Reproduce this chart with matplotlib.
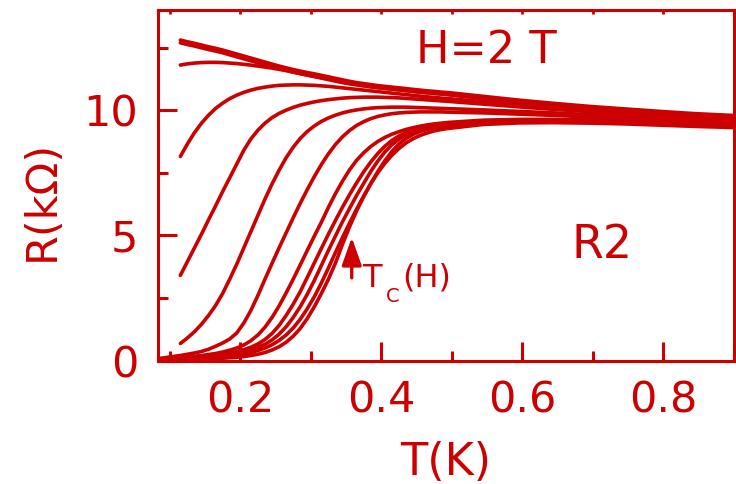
import numpy as np
import matplotlib.pyplot as plt

RED = '#cc0000'
nan = np.nan

# temperature grid (K) shared by all sweeps
temperature = [0.085, 0.095, 0.105, 0.115, 0.125, 0.135, 0.145, 0.155, 0.165, 0.175,
               0.185, 0.195, 0.205, 0.215, 0.225, 0.235, 0.245, 0.255, 0.265, 0.275,
               0.285, 0.295, 0.305, 0.315, 0.325, 0.335, 0.345, 0.355, 0.365, 0.375,
               0.385, 0.395, 0.405, 0.415, 0.425, 0.435, 0.445, 0.455, 0.465, 0.475,
               0.485, 0.495, 0.545, 0.595, 0.645, 0.695, 0.745, 0.795, 0.845, 0.905]

# resistance (kOhm), highest field first
r_h1 = [nan, nan, nan, 12.80, 12.73, 12.67, 12.60, 12.53, 12.47, 12.40,
        12.32, 12.24, 12.16, 12.08, 12.00, 11.92, 11.84, 11.76, 11.69, 11.62,
        11.56, 11.50, 11.45, 11.39, 11.33, 11.27, 11.21, 11.15, 11.10, 11.06,
        11.02, 10.98, 10.95, 10.92, 10.89, 10.86, 10.83, 10.80, 10.77, 10.75,
        10.72, 10.70, 10.55, 10.40, 10.27, 10.15, 10.05, 9.95, 9.86, 9.78]
r_h2 = [nan, nan, nan, 12.69, 12.62, 12.56, 12.49, 12.42, 12.36, 12.29,
        12.21, 12.13, 12.05, 11.97, 11.89, 11.81, 11.74, 11.66, 11.59, 11.52,
        11.46, 11.40, 11.35, 11.30, 11.24, 11.18, 11.12, 11.07, 11.02, 10.98,
        10.94, 10.90, 10.87, 10.84, 10.81, 10.78, 10.75, 10.72, 10.70, 10.67,
        10.65, 10.62, 10.48, 10.34, 10.21, 10.10, 10.00, 9.90, 9.81, 9.73]
r_h3 = [nan, nan, nan, 11.80, 11.85, 11.88, 11.90, 11.91, 11.91, 11.90,
        11.88, 11.86, 11.83, 11.80, 11.76, 11.72, 11.68, 11.63, 11.58, 11.52,
        11.46, 11.40, 11.34, 11.28, 11.22, 11.16, 11.10, 11.05, 11.01, 10.97,
        10.93, 10.90, 10.87, 10.84, 10.81, 10.78, 10.75, 10.72, 10.69, 10.67,
        10.64, 10.62, 10.46, 10.31, 10.18, 10.07, 9.97, 9.87, 9.78, 9.70]
r_h4 = [nan, nan, nan, 8.15, 8.65, 9.10, 9.48, 9.80, 10.07, 10.28,
        10.46, 10.60, 10.71, 10.80, 10.87, 10.92, 10.96, 10.99, 11.00, 11.01,
        11.01, 11.00, 10.99, 10.97, 10.95, 10.92, 10.89, 10.86, 10.83, 10.80,
        10.77, 10.74, 10.71, 10.68, 10.65, 10.62, 10.59, 10.56, 10.53, 10.51,
        10.48, 10.46, 10.34, 10.22, 10.11, 10.01, 9.92, 9.83, 9.75, 9.67]
r_h5 = [nan, nan, nan, 3.40, 3.95, 4.50, 5.05, 5.62, 6.18, 6.75,
        7.30, 7.85, 8.40, 8.85, 9.20, 9.48, 9.70, 9.87, 10.00, 10.11,
        10.20, 10.27, 10.33, 10.38, 10.42, 10.45, 10.48, 10.50, 10.51, 10.52,
        10.52, 10.52, 10.51, 10.50, 10.49, 10.47, 10.45, 10.43, 10.41, 10.39,
        10.37, 10.35, 10.24, 10.13, 10.03, 9.94, 9.86, 9.78, 9.70, 9.62]
r_h6 = [nan, nan, nan, 0.68, 0.90, 1.15, 1.45, 1.80, 2.20, 2.68,
        3.25, 3.85, 4.50, 5.15, 5.80, 6.45, 7.05, 7.60, 8.10, 8.52,
        8.87, 9.15, 9.37, 9.55, 9.69, 9.80, 9.89, 9.96, 10.01, 10.05,
        10.08, 10.10, 10.11, 10.12, 10.12, 10.12, 10.11, 10.10, 10.09, 10.08,
        10.07, 10.06, 10.01, 9.95, 9.89, 9.82, 9.75, 9.68, 9.61, 9.55]
r_h7 = [0.08, 0.12, 0.16, 0.20, 0.25, 0.30, 0.36, 0.45, 0.57, 0.70,
        0.86, 1.10, 1.50, 2.00, 2.60, 3.25, 3.88, 4.50, 5.10, 5.70,
        6.28, 6.83, 7.35, 7.83, 8.26, 8.63, 8.94, 9.19, 9.39, 9.54,
        9.66, 9.75, 9.81, 9.86, 9.89, 9.91, 9.92, 9.93, 9.93, 9.93,
        9.93, 9.92, 9.89, 9.84, 9.79, 9.73, 9.67, 9.61, 9.55, 9.48]
r_h8 = [0.06, 0.08, 0.10, 0.12, 0.14, 0.17, 0.20, 0.24, 0.28, 0.34,
        0.41, 0.50, 0.62, 0.79, 1.02, 1.33, 1.72, 2.18, 2.70, 3.25,
        3.82, 4.40, 4.97, 5.53, 6.12, 6.67, 7.17, 7.62, 8.00, 8.30,
        8.55, 8.75, 8.91, 9.04, 9.14, 9.23, 9.30, 9.36, 9.41, 9.45,
        9.48, 9.51, 9.60, 9.63, 9.63, 9.61, 9.57, 9.52, 9.47, 9.43]
r_h9 = [0.05, 0.06, 0.08, 0.09, 0.11, 0.13, 0.15, 0.18, 0.21, 0.25,
        0.30, 0.36, 0.43, 0.53, 0.66, 0.84, 1.08, 1.40, 1.80, 2.25,
        2.75, 3.32, 3.90, 4.48, 5.05, 5.60, 6.13, 6.63, 7.10, 7.54,
        7.93, 8.27, 8.56, 8.79, 8.97, 9.10, 9.20, 9.28, 9.34, 9.39,
        9.43, 9.46, 9.56, 9.60, 9.60, 9.58, 9.54, 9.49, 9.44, 9.40]
r_h10 = [0.04, 0.05, 0.06, 0.07, 0.08, 0.10, 0.12, 0.14, 0.16, 0.19,
         0.23, 0.28, 0.34, 0.42, 0.52, 0.65, 0.82, 1.05, 1.35, 1.72,
         2.15, 2.65, 3.20, 3.80, 4.40, 4.98, 5.55, 6.08, 6.60, 7.08,
         7.55, 7.97, 8.33, 8.62, 8.84, 9.00, 9.12, 9.21, 9.28, 9.33,
         9.37, 9.40, 9.51, 9.56, 9.57, 9.55, 9.51, 9.47, 9.42, 9.37]
r_h11 = [0.03, 0.04, 0.05, 0.05, 0.06, 0.07, 0.09, 0.10, 0.12, 0.14,
         0.17, 0.21, 0.26, 0.32, 0.40, 0.50, 0.63, 0.80, 1.02, 1.30,
         1.65, 2.07, 2.55, 3.10, 3.70, 4.32, 4.92, 5.50, 6.05, 6.57,
         7.07, 7.55, 7.98, 8.35, 8.65, 8.87, 9.03, 9.15, 9.23, 9.29,
         9.34, 9.37, 9.48, 9.53, 9.54, 9.52, 9.48, 9.44, 9.39, 9.34]
r_h12 = [0.02, 0.02, 0.03, 0.03, 0.04, 0.04, 0.05, 0.06, 0.07, 0.09,
         0.11, 0.13, 0.16, 0.20, 0.25, 0.32, 0.42, 0.55, 0.73, 0.97,
         1.28, 1.68, 2.15, 2.68, 3.25, 3.90, 4.65, 5.35, 5.98, 6.55,
         7.06, 7.50, 7.88, 8.20, 8.47, 8.69, 8.86, 8.99, 9.09, 9.17,
         9.23, 9.27, 9.43, 9.49, 9.50, 9.48, 9.45, 9.40, 9.35, 9.30]

sweeps = [r_h1, r_h2, r_h3, r_h4, r_h5, r_h6, r_h7, r_h8, r_h9, r_h10, r_h11, r_h12]

x_major = [0.2, 0.4, 0.6, 0.8]
x_minor = [0.1, 0.3, 0.5, 0.7, 0.9]
y_major = [0, 5, 10]
y_minor = [2.5, 7.5, 12.5]

fig = plt.figure(figsize=(7.36, 4.84), dpi=100)
ax = fig.add_axes([157.5 / 736, 1 - 360.5 / 484, 576.5 / 736, 350.5 / 484])

for r in sweeps:
    ax.plot(temperature, r, color=RED, lw=2.6, solid_capstyle='round')

ax.set_xlim(0.0826, 0.898)
ax.set_ylim(0, 14)

ax.set_xticks(x_major)
ax.set_xticks(x_minor, minor=True)
ax.set_yticks(y_major)
ax.set_yticks(y_minor, minor=True)
ax.set_xticklabels(['0.2', '0.4', '0.6', '0.8'])
ax.tick_params(which='both', direction='in', color=RED, labelcolor=RED, width=2.2)
ax.tick_params(which='major', length=14, labelsize=31)
ax.tick_params(which='minor', length=7.5)
ax.tick_params(axis='x', which='major', pad=14)
ax.tick_params(axis='y', which='major', pad=14)

# short marks along the top edge
top = ax.secondary_xaxis('top')
top.set_xticks(x_major + x_minor)
top.tick_params(direction='in', length=3, width=2, color=RED, labeltop=False)
top.spines['top'].set_color(RED)
top.spines['top'].set_linewidth(2.2)

for s in ax.spines.values():
    s.set_color(RED)
    s.set_linewidth(2.2)

ax.set_xlabel('T(K)', fontsize=32, color=RED)
ax.xaxis.set_label_coords(0.5, -0.23)
ax.set_ylabel('R(k\u03a9)', fontsize=31, color=RED)
ax.yaxis.set_label_coords(-0.164, 0.458)

ax.text(0.4496, 11.9, 'H=2 T', fontsize=32, color=RED, ha='left', va='baseline')
ax.text(0.669, 4.1, 'R2', fontsize=33, color=RED, ha='left', va='baseline')

# T_C(H) label with a dropped subscript
tc_pos = (0.3733, 2.94)
ax.annotate('T', tc_pos, fontsize=23, color=RED, ha='left', va='baseline')
ax.annotate('C', tc_pos, xytext=(16.5, -11), textcoords='offset points',
            fontsize=14, color=RED, ha='left', va='baseline')
ax.annotate('(H)', tc_pos, xytext=(28.5, 0), textcoords='offset points',
            fontsize=23, color=RED, ha='left', va='baseline')
ax.annotate('', xy=(0.358, 4.92), xytext=(0.358, 3.3),
            arrowprops=dict(arrowstyle='-|>,head_length=1.7,head_width=0.6',
                            color=RED, lw=2.4, shrinkA=0, shrinkB=0))

fig.savefig('out.png', dpi=100)
